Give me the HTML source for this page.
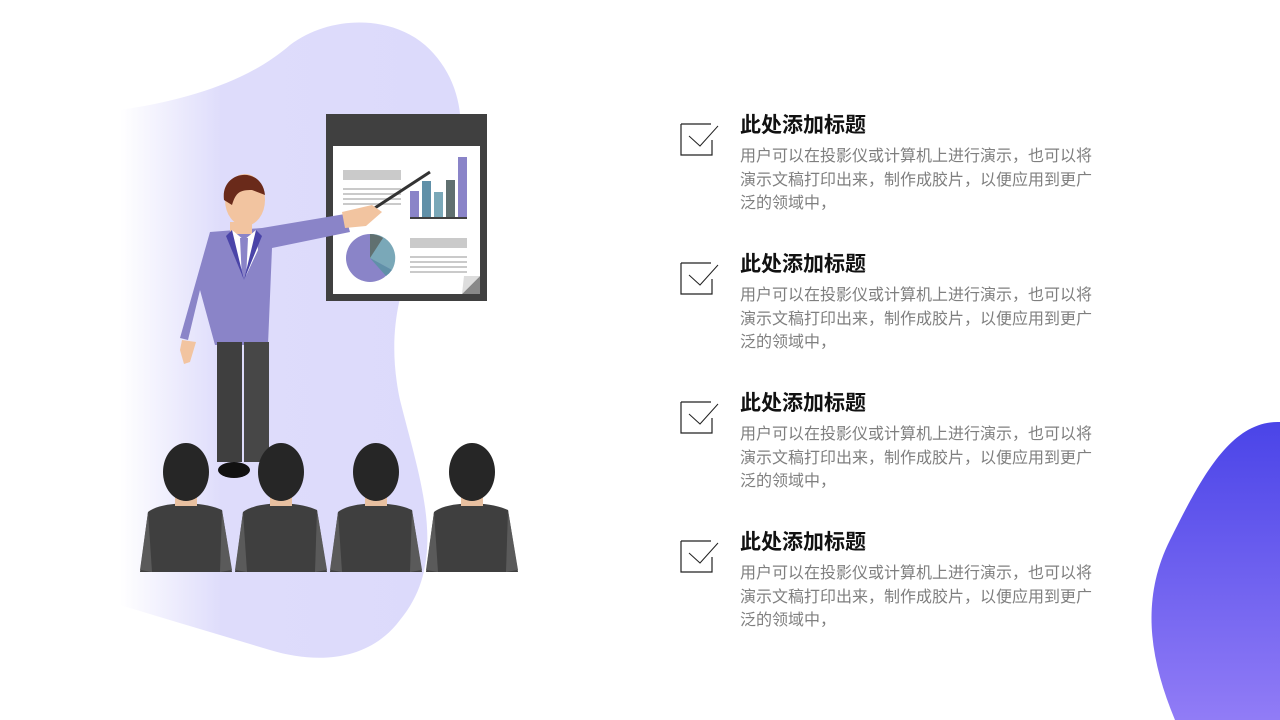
<!DOCTYPE html>
<html><head><meta charset="utf-8"><style>
body{margin:0;width:1280px;height:720px;overflow:hidden;background:#fff;position:relative;font-family:"Liberation Sans","Noto Sans CJK SC",sans-serif}
.item{position:absolute;left:680px;width:420px}
.item h3{position:absolute;left:60px;top:0;margin:0;font-size:21px;font-weight:bold;color:#111;line-height:26px;white-space:nowrap}
.item p{position:absolute;left:60px;top:32px;margin:0;font-size:16px;color:#7f7f7f;line-height:23.5px;width:360px}
.item svg{position:absolute;left:0;top:9px}
</style></head><body>
<svg width="1280" height="720" style="position:absolute;left:0;top:0">
<defs>
<linearGradient id="lg" x1="0" x2="1" y1="0" y2="0">
<stop offset="0" stop-color="#fff"/><stop offset="0.3" stop-color="#dedcfb"/><stop offset="1" stop-color="#dcdafb"/></linearGradient>
<linearGradient id="rg" x1="0" x2="0" y1="0" y2="1">
<stop offset="0" stop-color="#4a44e8"/><stop offset="1" stop-color="#917cf6"/></linearGradient>
</defs>
<path d="M120 110 C190 100 250 80 290 45 C330 15 390 15 425 45 C470 85 470 150 440 210 C400 270 385 330 400 400 C420 480 450 560 400 620 C370 660 320 665 270 650 C220 635 170 620 120 605 Z" fill="url(#lg)"/>
<path d="M1280 422 C1230 420 1200 480 1170 540 C1140 600 1150 660 1175 720 L1280 720 Z" fill="url(#rg)"/>
<rect x="326" y="114" width="161" height="187" fill="#404040"/>
<rect x="333" y="146" width="147" height="148" fill="#fff"/>
<path d="M462 294 L480 276 L480 294 Z" fill="#888"/><path d="M462 294 L480 276 L464 276 Z" fill="#ddd"/>
<rect x="343" y="170" width="58" height="10" fill="#cacaca"/>
<g fill="#cacaca"><rect x="343" y="188" width="58" height="2"/><rect x="343" y="193" width="58" height="2"/><rect x="343" y="198" width="58" height="2"/><rect x="343" y="203" width="58" height="2"/></g>
<rect x="410" y="191" width="9" height="27" fill="#8a84c8"/><rect x="422" y="181" width="9" height="37" fill="#6090a8"/><rect x="434" y="192" width="9" height="26" fill="#7aa8b8"/><rect x="446" y="180" width="9" height="38" fill="#607070"/><rect x="458" y="157" width="9" height="61" fill="#8a84c8"/>
<rect x="410" y="217" width="57" height="2" fill="#404040"/>
<circle cx="370" cy="258" r="24" fill="#8a84c8"/>
<path d="M370 258 L370 234 A24 24 0 0 1 392 270 Z" fill="#7aa8b8"/>
<path d="M370 258 L370 234 A24 24 0 0 1 383 238 Z" fill="#607070"/>
<path d="M370 258 L392 270 A24 24 0 0 1 386 276 Z" fill="#6090a8"/>
<rect x="410" y="238" width="57" height="10" fill="#cacaca"/>
<g fill="#cacaca"><rect x="410" y="256" width="57" height="2"/><rect x="410" y="261" width="57" height="2"/><rect x="410" y="266" width="57" height="2"/><rect x="410" y="271" width="57" height="2"/></g>
<line x1="338" y1="232" x2="430" y2="172" stroke="#333" stroke-width="3"/>
<path d="M210 232 L262 228 L345 214 L350 232 L272 248 L268 345 L215 345 L200 290 L188 340 L180 338 Z" fill="#8a84c8"/>
<path d="M342 212 L372 205 L382 212 L366 226 L345 228 Z" fill="#f2c4a0"/>
<path d="M182 340 L196 342 L190 362 L184 364 L180 350 Z" fill="#f2c4a0"/>
<rect x="230" y="222" width="22" height="12" fill="#f2c4a0"/>
<ellipse cx="245" cy="200" rx="20" ry="26" fill="#f2c4a0"/>
<path d="M224 200 C220 170 262 165 265 195 L252 190 C240 190 236 192 232 205 Z" fill="#6a2a1a"/>
<path d="M232 230 L244 240 L256 230 L258 250 L244 280 L232 250 Z" fill="#fff"/>
<path d="M240 238 L248 238 L246 280 L242 280 Z" fill="#8a84c8"/>
<path d="M226 236 L232 230 L244 280 Z M262 236 L256 230 L244 280 Z" fill="#4a44a8"/>
<rect x="217" y="342" width="25" height="120" fill="#3f3f3f"/><rect x="244" y="342" width="25" height="120" fill="#474747"/>
<ellipse cx="234" cy="470" rx="16" ry="8" fill="#111"/>
<g id="p">
<path d="M148 512 C160 502 200 500 222 510 L232 572 L140 572 Z" fill="#3f3f3f"/>
<path d="M148 512 L140 570 L152 572 Z M222 510 L232 570 L220 572 Z" fill="#5a5a5a"/>
<rect x="175" y="492" width="22" height="14" fill="#e8c0a0"/>
<ellipse cx="186" cy="472" rx="23" ry="29" fill="#262626"/>
</g>
<use href="#p" x="95"/><use href="#p" x="190"/><use href="#p" x="286"/>
</svg>
<div class="item" style="top:113px"><svg width="40" height="36"><path d="M1 2 H31 M1 2 V33 H32 V18" stroke="#222" fill="none" stroke-width="1.2"/><path d="M9 14 L20 24 L38 4" stroke="#222" fill="none" stroke-width="1"/></svg><h3>此处添加标题</h3><p>用户可以在投影仪或计算机上进行演示，也可以将演示文稿打印出来，制作成胶片，以便应用到更广泛的领域中，</p></div>
<div class="item" style="top:252px"><svg width="40" height="36"><path d="M1 2 H31 M1 2 V33 H32 V18" stroke="#222" fill="none" stroke-width="1.2"/><path d="M9 14 L20 24 L38 4" stroke="#222" fill="none" stroke-width="1"/></svg><h3>此处添加标题</h3><p>用户可以在投影仪或计算机上进行演示，也可以将演示文稿打印出来，制作成胶片，以便应用到更广泛的领域中，</p></div>
<div class="item" style="top:391px"><svg width="40" height="36"><path d="M1 2 H31 M1 2 V33 H32 V18" stroke="#222" fill="none" stroke-width="1.2"/><path d="M9 14 L20 24 L38 4" stroke="#222" fill="none" stroke-width="1"/></svg><h3>此处添加标题</h3><p>用户可以在投影仪或计算机上进行演示，也可以将演示文稿打印出来，制作成胶片，以便应用到更广泛的领域中，</p></div>
<div class="item" style="top:530px"><svg width="40" height="36"><path d="M1 2 H31 M1 2 V33 H32 V18" stroke="#222" fill="none" stroke-width="1.2"/><path d="M9 14 L20 24 L38 4" stroke="#222" fill="none" stroke-width="1"/></svg><h3>此处添加标题</h3><p>用户可以在投影仪或计算机上进行演示，也可以将演示文稿打印出来，制作成胶片，以便应用到更广泛的领域中，</p></div>
</body></html>
